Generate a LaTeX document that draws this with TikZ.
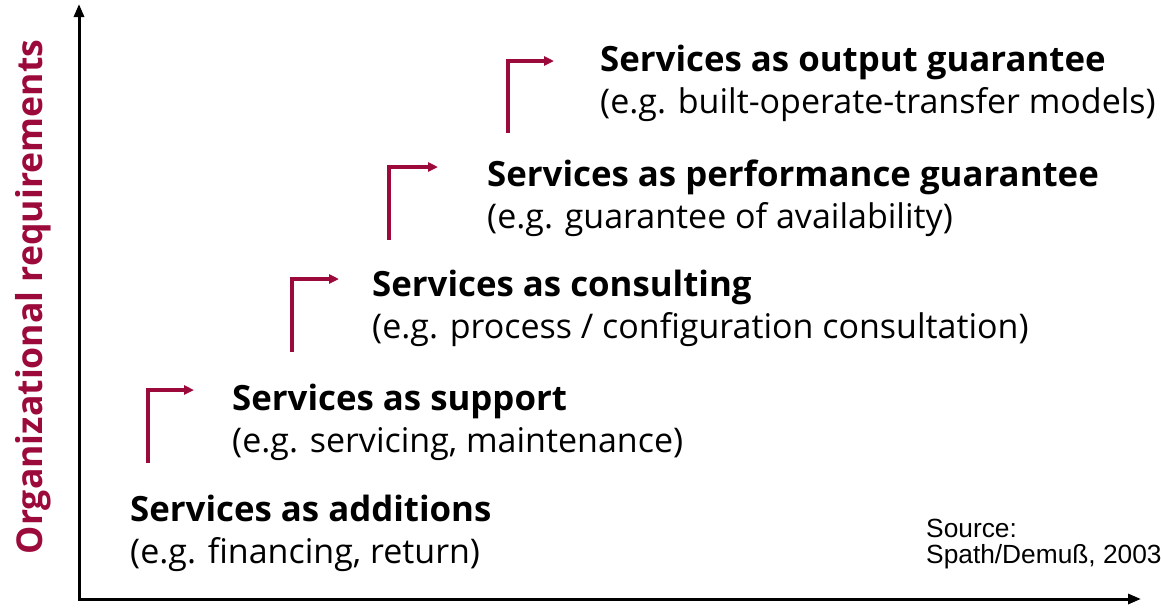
\documentclass[tikz,border=0pt]{standalone}
\usepackage{fontspec}
\setmainfont{Open Sans}
\newfontfamily\srcfont{Liberation Sans}
\usetikzlibrary{arrows.meta}
\definecolor{crimson}{HTML}{9C0A3C}
\begin{document}
\begin{tikzpicture}[x=1pt,y=-1pt,
  title/.style={anchor=base west,inner sep=0pt,font=\fontsize{34.8}{40}\selectfont\bfseries},
  sub/.style={anchor=base west,inner sep=0pt,font=\fontsize{34}{40}\selectfont},
  src/.style={anchor=base west,inner sep=0pt,font=\srcfont\fontsize{26.3}{30}\selectfont},
  elbow/.style={draw=crimson,line width=3.2pt,-{Triangle[length=10pt,width=9pt]}},
  axis/.style={line width=3pt,{Triangle[length=13pt,width=10pt]}-{Triangle[length=13pt,width=10pt]}}]
\useasboundingbox (0,0) rectangle (1161,608);
% axes
\coordinate (Ytop) at (79,4);
\coordinate (O) at (79,599);
\coordinate (Xend) at (1141,599);
\draw[axis] (Ytop) -- (O) -- (Xend);
\node[rotate=90,anchor=base,inner sep=0pt,font=\fontsize{35.6}{40}\selectfont\bfseries,text=crimson] (ylab) at (42,297) {Organizational requirements};
% levels
\node[title] (t1) at (130,521) {Services as additions};
\node[sub]   (s1) at (130,563) {(e.g. financing, return)};
\node[title] (t2) at (232,410) {Services as support};
\node[sub]   (s2) at (232,452) {(e.g. servicing, maintenance)};
\node[title] (t3) at (372,296) {Services as consulting};
\node[sub]   (s3) at (372,338) {(e.g. process / configuration consultation)};
\node[title] (t4) at (487,186) {Services as performance guarantee};
\node[sub]   (s4) at (487,228) {(e.g. guarantee of availability)};
\node[title] (t5) at (600,71) {Services as output guarantee};
\node[sub]   (s5) at (600,113) {(e.g. built-operate-transfer models)};
% elbow arrows
\coordinate (a1) at (148,463); \coordinate (b1) at (194,390);
\coordinate (a2) at (292,352); \coordinate (b2) at (339,279);
\coordinate (a3) at (389,240); \coordinate (b3) at (438,167);
\coordinate (a4) at (508,133); \coordinate (b4) at (554,61);
\draw[elbow] (a1) |- (b1);
\draw[elbow] (a2) |- (b2);
\draw[elbow] (a3) |- (b3);
\draw[elbow] (a4) |- (b4);
% source
\node[src] (src1) at (926,537) {Source:};
\node[src] (src2) at (926,563) {Spath/Demuß, 2003};
\end{tikzpicture}
\end{document}
